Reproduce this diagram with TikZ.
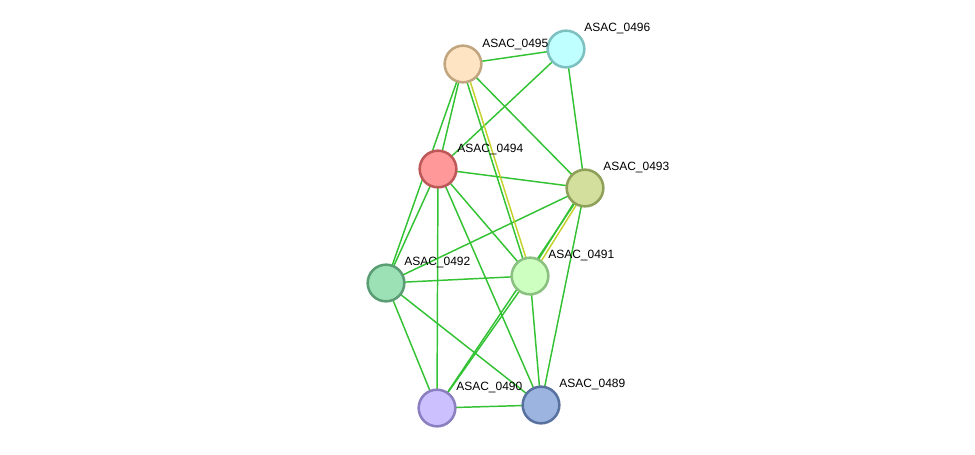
\documentclass[tikz,border=0pt]{standalone}
\usepackage{fontspec}
\setsansfont{Liberation Sans}
\usepackage{tikz}
\usetikzlibrary{calc,backgrounds}
\definecolor{linkgreen}{HTML}{33C233}
\definecolor{linkyellow}{HTML}{C6D22C}

\begin{document}
\begin{tikzpicture}[x=0.75pt, y=-0.75pt,
    prot/.style={circle, line width=1.9pt, minimum size=27.5pt, inner sep=0pt},
    lbl/.style={font=\sffamily\fontsize{9}{10}\selectfont, anchor=west, inner sep=0pt},
    link/.style={linkgreen, line width=1.1pt},
    tm/.style={linkyellow, line width=1.1pt}]
  \useasboundingbox (0,0) rectangle (975,454);
  \node[prot, fill={rgb,255:red,255;green,228;blue,196}, draw={rgb,255:red,192;green,165;blue,126}] (p95) at (463,64) {};
  \node[prot, fill={rgb,255:red,192;green,255;blue,255}, draw={rgb,255:red,124;green,192;blue,192}] (p96) at (566,49) {};
  \node[prot, fill={rgb,255:red,255;green,153;blue,153}, draw={rgb,255:red,190;green,88;blue,88}] (p94) at (438,169) {};
  \node[prot, fill={rgb,255:red,211;green,223;blue,156}, draw={rgb,255:red,142;green,160;blue,90}] (p93) at (585,188) {};
  \node[prot, fill={rgb,255:red,156;green,224;blue,181}, draw={rgb,255:red,90;green,156;blue,115}] (p92) at (386,283) {};
  \node[prot, fill={rgb,255:red,204;green,255;blue,192}, draw={rgb,255:red,138;green,192;blue,128}] (p91) at (530,276) {};
  \node[prot, fill={rgb,255:red,204;green,192;blue,255}, draw={rgb,255:red,138;green,128;blue,192}] (p90) at (437,408) {};
  \node[prot, fill={rgb,255:red,156;green,181;blue,224}, draw={rgb,255:red,88;green,114;blue,160}] (p89) at (541,405) {};

  \node[lbl] (l95) at ($(p95)+(19,-20)$) {ASAC\_0495};
  \node[lbl] (l96) at ($(p96)+(18,-20)$) {ASAC\_0496};
  \node[lbl] (l94) at ($(p94)+(19,-20)$) {ASAC\_0494};
  \node[lbl] (l93) at ($(p93)+(18,-21)$) {ASAC\_0493};
  \node[lbl] (l92) at ($(p92)+(18,-21)$) {ASAC\_0492};
  \node[lbl] (l91) at ($(p91)+(18,-21)$) {ASAC\_0491};
  \node[lbl] (l90) at ($(p90)+(19,-21)$) {ASAC\_0490};
  \node[lbl] (l89) at ($(p89)+(18,-21)$) {ASAC\_0489};

  \begin{pgfonlayer}{background}
    % single links
    \draw[link] (p95.center) -- (p96.center);
    \draw[link] (p96.center) -- (p94.center);
    \draw[link] (p96.center) -- (p93.center);
    \draw[link] (p95.center) -- (p93.center);
    \draw[link] (p95.center) -- (p94.center);
    \draw[link] (p95.center) -- (p92.center);
    \draw[link] (p94.center) -- (p93.center);
    \draw[link] (p94.center) -- (p92.center);
    \draw[link] (p94.center) -- (p91.center);
    \draw[link] (p94.center) -- (p90.center);
    \draw[link] (p94.center) -- (p89.center);
    \draw[link] (p93.center) -- (p92.center);
    \draw[link] (p93.center) -- (p90.center);
    \draw[link] (p93.center) -- (p89.center);
    \draw[link] (p92.center) -- (p91.center);
    \draw[link] (p92.center) -- (p90.center);
    \draw[link] (p92.center) -- (p89.center);
    \draw[link] (p91.center) -- (p90.center);
    \draw[link] (p91.center) -- (p89.center);
    \draw[link] (p90.center) -- (p89.center);
    % green + text-mining pairs
    \draw[link] ($(p95)!1.2pt!-90:(p91)$) -- ($(p91)!1.2pt!90:(p95)$);
    \draw[tm]   ($(p95)!1.2pt!90:(p91)$)  -- ($(p91)!1.2pt!-90:(p95)$);
    \draw[link] ($(p93)!1.2pt!-90:(p91)$) -- ($(p91)!1.2pt!90:(p93)$);
    \draw[tm]   ($(p93)!1.2pt!90:(p91)$)  -- ($(p91)!1.2pt!-90:(p93)$);
  \end{pgfonlayer}
\end{tikzpicture}
\end{document}
